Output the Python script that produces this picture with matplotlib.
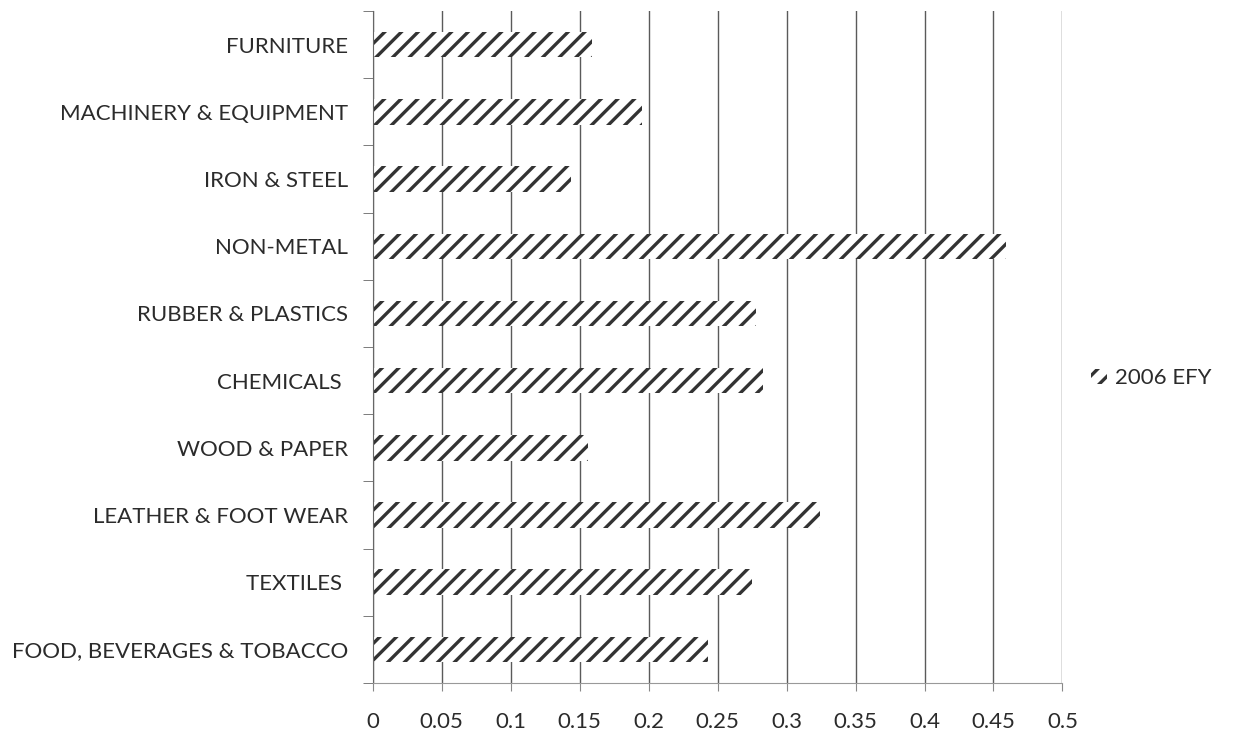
import numpy as np
import matplotlib
matplotlib.use("Agg")
import matplotlib.pyplot as plt
from matplotlib.patches import Patch

# --- data (bottom to top, as drawn) ---
categories = [
    "FOOD, BEVERAGES & TOBACCO",
    "TEXTILES ",
    "LEATHER & FOOT WEAR",
    "WOOD & PAPER",
    "CHEMICALS ",
    "RUBBER & PLASTICS",
    "NON-METAL",
    "IRON & STEEL",
    "MACHINERY & EQUIPMENT",
    "FURNITURE",
]
values_2006 = [0.243, 0.275, 0.324, 0.156, 0.283, 0.278, 0.459, 0.144, 0.195, 0.159]
series_label = "2006 EFY"
xticks = [0, 0.05, 0.1, 0.15, 0.2, 0.25, 0.3, 0.35, 0.4, 0.45, 0.5]
xtick_labels = ["0", "0.05", "0.1", "0.15", "0.2", "0.25", "0.3", "0.35", "0.4", "0.45", "0.5"]

plt.rcParams["font.family"] = ["Lato", "DejaVu Sans"]
plt.rcParams["hatch.linewidth"] = 2.4

TEXT = "#2b2b2b"
HATCH = "#333333"
FS = 16

fig = plt.figure(figsize=(12.47, 7.40), dpi=100)
ax = fig.add_axes([0.299, 0.077, 0.553, 0.908])

y = np.arange(len(categories))
ax.barh(y, values_2006, height=0.38, color="white", edgecolor=HATCH,
        linewidth=0, hatch="//", zorder=2)

ax.set_xlim(0, 0.5)
ax.set_ylim(-0.5, len(categories) - 0.5)
ax.set_xticks(xticks)
ax.set_xticklabels(xtick_labels)
ax.set_yticks(y)
ax.set_yticklabels(categories)
ax.set_yticks(np.arange(len(categories) + 1) - 0.5, minor=True)

ax.set_axisbelow(True)
ax.grid(axis="x", color="#5a5a5a", lw=1.0)

for side in ("top", "right"):
    ax.spines[side].set_visible(False)
ax.spines["left"].set_color("#666666")
ax.spines["bottom"].set_color("#999999")

ax.tick_params(axis="y", which="major", length=0, pad=18, labelsize=FS, labelcolor=TEXT)
ax.tick_params(axis="y", which="minor", length=7, color="#666666")
ax.tick_params(axis="x", length=6, color="#888888", pad=15, labelsize=FS, labelcolor=TEXT)

handle = Patch(facecolor="white", edgecolor=HATCH, linewidth=0, hatch="//")
fig.legend([handle], [series_label], loc="center left",
           bbox_to_anchor=(0.859, 0.489), frameon=False, fontsize=FS,
           handlelength=0.7, handleheight=0.7, handletextpad=0.35,
           labelcolor=TEXT)

fig.savefig("out.png", dpi=100)
